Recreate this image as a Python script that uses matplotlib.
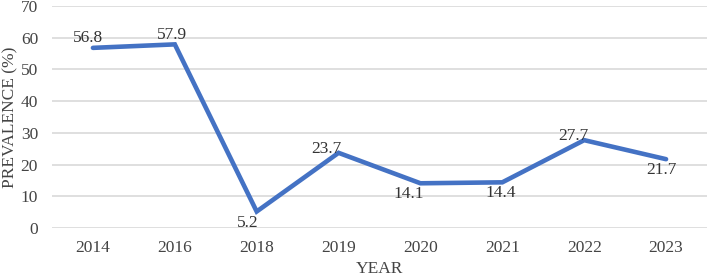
import matplotlib
matplotlib.use("Agg")
import matplotlib.pyplot as plt

years = ["2014", "2016", "2018", "2019", "2020", "2021", "2022", "2023"]
prevalence = [56.8, 57.9, 5.2, 23.7, 14.1, 14.4, 27.7, 21.7]
label_pos = ["above", "above", "below", "above", "below", "below", "above", "below"]
yticks = [0, 10, 20, 30, 40, 50, 60, 70]

# label nudges in pixels (styling only)
label_dx = [-5, -3, -9, -12, -12, -2, -11, -5]
label_dy = [6, 5, -3, 0, -3, -3, 0, -3]

plt.rcParams['font.family'] = ['Liberation Serif', 'DejaVu Serif']

fig = plt.figure(figsize=(7.08, 2.79), dpi=100)
ax = fig.add_axes([52/708, 1 - 228/279, (707-52)/708, (228-6)/279])

x = list(range(len(years)))
ax.plot(x, prevalence, color="#4472C4", linewidth=3.3, solid_capstyle="round",
        solid_joinstyle="miter", zorder=3)

px = 72 / 100.0
for xi, v, pos, dx, dy in zip(x, prevalence, label_pos, label_dx, label_dy):
    if pos == "above":
        ax.annotate(f"{v}", (xi, v), xytext=(dx * px, dy * px), textcoords="offset points",
                    ha="center", va="baseline", fontsize=12.5, color="#333333", zorder=4)
    else:
        ax.annotate(f"{v}", (xi, v), xytext=(dx * px, dy * px), textcoords="offset points",
                    ha="center", va="top", fontsize=12.5, color="#333333", zorder=4)

ax.set_xlim(-0.5, len(years) - 0.5)
ax.set_ylim(0, 70)
ax.set_yticks(yticks)
ax.set_xticks(x)
ax.set_xticklabels(years)
ax.tick_params(axis="both", length=0, labelsize=12.5, labelcolor="#444444")
ax.tick_params(axis="y", pad=10)
ax.tick_params(axis="x", pad=9)
ax.grid(axis="y", color="#D9D9D9", linewidth=1.2, zorder=0)
for s in ax.spines.values():
    s.set_visible(False)
ax.set_ylabel("PREVALENCE (%)", fontsize=12.5, color="#444444", labelpad=2)
ax.set_xlabel("YEAR", fontsize=12.5, color="#444444", labelpad=3)

fig.savefig("out.png", dpi=100)
